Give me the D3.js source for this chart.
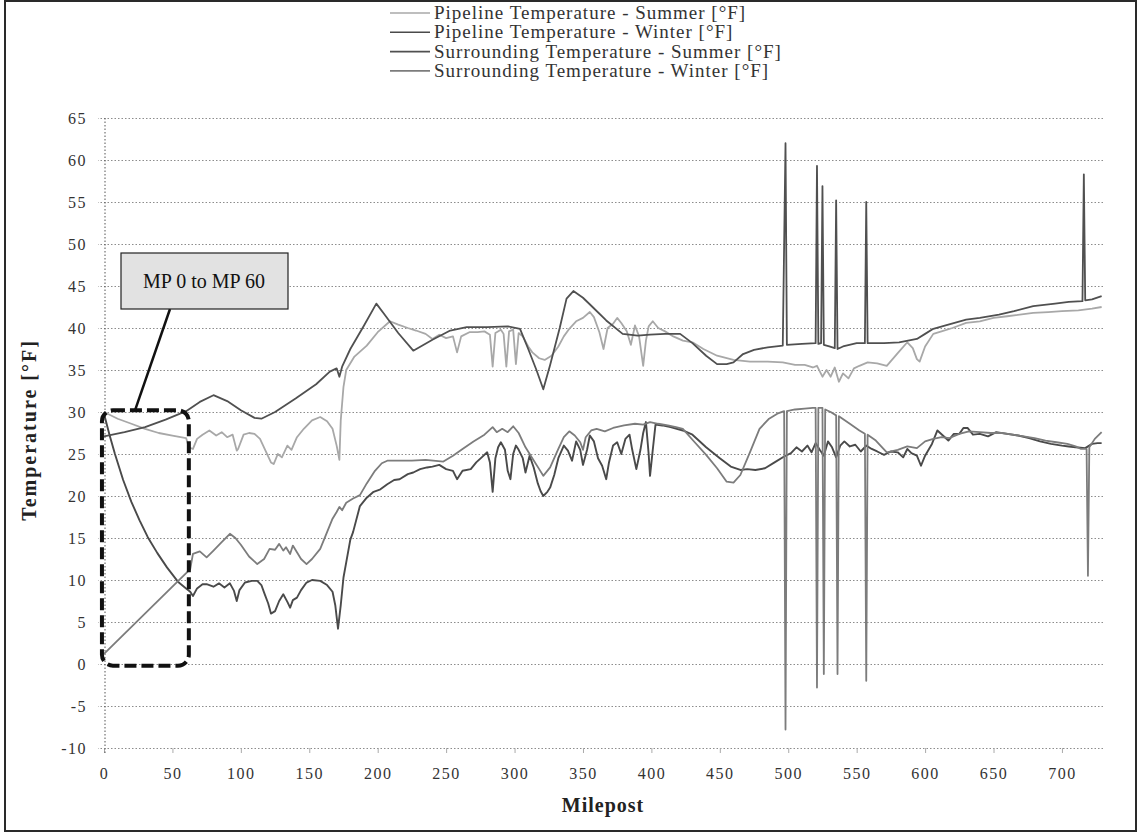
<!DOCTYPE html>
<html>
<head>
<meta charset="utf-8">
<script src="https://cdn.jsdelivr.net/npm/d3@7/dist/d3.min.js"></script>
<style>
  body { margin: 0; background: #fff; }
  svg text { font-family: "Liberation Serif", "Times New Roman", serif; }
</style>
</head>
<body>
<svg id="chart" width="1140" height="834"></svg>
<script>
// [milepost, temperature °F]
let pipelineSummer = [
  [0,30],[10,29.2],[20,28.6],[30,28],[40,27.5],[50,27.2],[60,26.9],[62,25.8],[65,25.6],[68,26.8],
  [72,27.3],[77,27.8],[82,27.2],[86,27.6],[90,27],[94,27.3],[97,25.4],[98,25.6],[102,27.3],[106,27.5],
  [110,27.4],[114,26.8],[118,25.4],[122,24],[124,23.8],[127,25],[130,24.6],[134,26],[137,25.5],[141,27],
  [146,28],[152,29],[158,29.4],[163,28.9],[167,28],[170,26],[172,24.3],[173,29],[175,33],[177,35],
  [183,36.6],[192,37.9],[200,39.5],[209,40.8],[215,40.4],[222,40],[228,39.7],[235,39.3],[240,38.7],[245,39.2],
  [250,38.8],[255,39],[258,37.1],[261,39],[267,39.5],[273,39.5],[278,39.6],[282,39.2],[284,35.4],[286,39.4],
  [290,39.8],[292,39.3],[294,35.4],[296,39.6],[299,39.8],[301,35.7],[303,39.4],[306,39],[310,37.8],[313,37.1],
  [318,36.4],[322,36.2],[327,36.7],[332,37.8],[336,39],[340,39.9],[345,40.8],[350,41.2],[355,41.9],[358,41.3],
  [362,39.5],[365,37.5],[368,40],[372,40.5],[375,41.2],[378,40.6],[382,39.6],[385,38],[388,40.3],[391,39],
  [394,35.5],[396,38.5],[398,40.2],[401,40.8],[405,40],[410,39.6],[416,39],[423,38.5],[430,38.3],[438,37.5],
  [448,36.7],[460,36.2],[472,36],[485,36],[496,35.9],[505,35.6],[512,35.6],[518,35.3],[521,35.5],[525,34.2],
  [528,35],[531,34.2],[534,35.3],[537,33.6],[540,34.6],[544,34],[548,35.2],[552,35.5],[558,35.9],[565,35.8],
  [572,35.5],[580,37],[587,38.3],[591,37.6],[594,36.3],[596,36],[600,37.8],[606,39.3],[612,39.6],[620,40],
  [630,40.6],[640,40.8],[650,41.2],[660,41.4],[679,41.8],[690,41.9],[700,42],[712,42.1],[722,42.3],[729,42.5]
];

let pipelineWinter = [
  [0,29.8],[4,27.3],[8,25],[14,21.9],[20,19.3],[26,17.1],[32,15.1],[39,13.2],[46,11.5],[54,9.8],
  [60,9],[63,8.6],[65,8.1],[68,9],[72,9.5],[75,9.5],
  [80,9.2],[84,9.6],[88,9.1],[92,9.6],[95,8.7],[97,7.5],[99,8.8],[103,9.7],[108,9.9],[112,9.9],
  [115,9.4],[117,8.5],[120,7.2],[122,6],[125,6.3],[128,7.5],[131,8.3],[134,7.4],[136,6.7],[138,7.6],
  [141,7.9],[144,8.8],[148,9.7],[152,10],[158,9.9],[163,9.4],[167,8.6],[169,7],[171,4.2],[173,7],
  [175,10.3],[177,12.1],[180,14.8],[182,15.7],[187,18.8],[192,19.8],[197,20.5],[202,20.8],[207,21.4],[212,21.9],
  [216,22],[222,22.6],[226,22.8],[231,23.2],[236,23.4],[240,23.5],[245,23.7],[250,23.2],[255,23],[258,22],
  [262,23],[268,23.2],[272,24],[276,24.6],[280,25.2],[282,24],[284,20.5],[286,24.5],[288,25.8],[290,26.4],
  [293,25.5],[295,23],[297,22],[299,25],[301,26],[303,25.5],[306,24.5],[308,22.8],[311,24.8],[314,23.4],
  [317,21.5],[319,20.6],[321,20],[324,20.5],[326,21],[329,22.5],[332,24.5],[336,26],[339,25.4],[342,24.2],
  [345,26.5],[348,25.5],[350,23.7],[353,25.5],[355,27.2],[358,26.5],[361,24.5],[364,23.6],[367,22],[369,24],
  [372,26],[375,26.4],[378,25],[381,26.8],[384,27.3],[386,25.5],[389,23.2],[392,25.5],[394,27.5],[396,28.8],
  [398,25],[399,22.4],[401,25.5],[403,28.5],[408,28.4],[414,28.2],[423,27.8],[430,27.3],[440,25.8],[450,24.5],
  [458,23.5],[465,23.1],[470,23.2],[476,23.1],[483,23.3],[490,24],[497,24.7],[502,25.1],[506,25.8],[510,25.3],
  [514,26],[517,25.2],[520,26.3],[523,25.5],[526,24.8],[529,26.5],[532,25.8],[535,24.6],[538,26],[541,26.5],
  [545,25.9],[549,26.1],[553,25.3],[557,26],[561,25.6],[565,25.3],[570,24.9],[575,25.3],[580,25.2],[584,24.6],
  [587,25.6],[590,25.1],[594,24.8],[597,23.6],[600,24.8],[605,26.2],[609,27.8],[613,27.2],[617,26.6],[621,27.4],
  [625,27.4],[628,28.1],[631,28.1],[635,27.3],[640,27.4],[646,27.1],[652,27.6],[660,27.4],[668,27.2],[676,26.9],
  [684,26.5],[692,26.2],[700,26],[705,25.9],[710,25.8],[717,25.7],[722,26.2],[726,26.3],[729,26.3]
];

// spikes are part of the surrounding series
let surroundingSummer = [
  [0,27.1],[15,27.6],[30,28.2],[45,29.1],[60,30.1],[70,31.2],[80,32],[90,31.3],[100,30.2],[110,29.3],
  [115,29.2],[125,30],[140,31.6],[155,33.3],[165,34.8],[170,35.2],[172,34.2],[174,35.4],[180,37.5],[190,40.3],
  [199,42.9],[205,41.6],[215,39.4],[226,37.3],[240,38.6],[253,39.7],[265,40.1],[280,40.1],[295,40.2],[304,39.9],
  [310,37.5],[316,35],[321,32.7],[326,35.6],[333,40],[338,43.5],[343,44.4],[350,43.6],[357,42.5],[367,40.9],
  [379,39.3],[390,39.1],[399,39.2],[410,39.3],[421,39.3],[430,38.2],[440,36.7],[448,35.7],[455,35.7],[460,35.9],
  [467,36.9],[475,37.4],[485,37.7],[496,37.9],[498,62],[499,38],[510,38.1],[520,38.2],[521,59.3],[522,38.1],
  [524,38.2],[525,56.9],[526,38],[530,37.8],[534,37.6],[535,55.2],[536,37.5],[540,37.8],[550,38.2],[556,38.2],
  [557,55],[558,38.2],[570,38.2],[581,38.3],[594,38.7],[600,39.3],[606,39.9],[615,40.3],[630,41],[640,41.2],
  [654,41.6],[665,42],[679,42.6],[695,42.9],[705,43.1],[715,43.2],[716,58.3],[717,43.3],[722,43.4],[729,43.8]
];

let surroundingWinter = [
  [0,1.2],[63,11.3],[65,13.1],[70,13.4],[75,12.7],[80,13.5],[86,14.5],[92,15.5],[96,15],[100,14.2],
  [106,12.8],[112,11.9],[117,12.5],[121,13.7],[125,13.6],[128,14.3],[131,13.5],[133,13.9],[136,13.1],[138,14.1],
  [141,13.3],[144,12.5],[148,11.9],[152,12.5],[158,13.7],[163,15.7],[167,17.3],[170,18.1],[172,18.7],[174,18.3],
  [177,19.2],[182,19.7],[187,20.1],[192,21.5],[198,23],[203,23.9],[207,24.2],[215,24.2],[225,24.2],[235,24.3],
  [248,24.1],[255,24.8],[262,25.6],[270,26.5],[278,27.3],[284,28.2],[287,27.6],[291,28],[295,27.6],[299,28.3],
  [303,27.5],[308,25.8],[313,24.5],[318,23.2],[321,22.4],[326,23.4],[332,25.6],[336,27],[340,27.7],[344,27.2],
  [348,26.4],[350,25.5],[352,27],[356,27.8],[360,28],[366,27.7],[372,28.1],[380,28.4],[388,28.6],[394,28.5],
  [399,28.8],[405,28.6],[412,28.4],[418,28.2],[423,28],[430,26.7],[440,24.9],[448,23.3],[455,21.7],[460,21.6],
  [465,22.5],[472,25.2],[479,28],[486,29.2],[492,29.8],[497,30.1],[498,-7.8],[499,30.1],[505,30.3],[512,30.4],
  [518,30.5],[520,30.5],[521,-2.8],[522,30.5],[525,30.5],[526,-1.2],[527,30.3],[531,30],[535,29.6],[536,-1.2],
  [537,29.5],[545,28.6],[552,27.8],[556,27.4],[557,-2],[558,27.3],[564,26.6],[572,25.2],[580,25.5],[587,25.9],
  [594,25.7],[600,26.5],[606,26.8],[612,27],[618,26.9],[625,27.4],[632,27.7],[640,27.6],[648,27.5],[656,27.5],
  [664,27.3],[672,27.1],[680,26.9],[688,26.6],[696,26.4],[704,26.2],[710,25.9],[714,25.6],[718,25.6],[719,10.5],
  [720,25.8],[724,26.8],[729,27.6]
];

let seriesNames = [
  'Pipeline Temperature - Summer [°F]',
  'Pipeline Temperature - Winter [°F]',
  'Surrounding Temperature - Summer [°F]',
  'Surrounding Temperature - Winter [°F]'
];

let xTicks = d3.range(0, 701, 50);
let yTicks = d3.range(-10, 66, 5);

let FONT = '"Liberation Serif", "Times New Roman", serif';

let SERIES = [
  { name: seriesNames[0], data: pipelineSummer, color: '#a8a8a8', width: 1.8 },
  { name: seriesNames[1], data: pipelineWinter, color: '#4a4a4a', width: 1.9 },
  { name: seriesNames[2], data: surroundingSummer, color: '#505050', width: 1.8 },
  { name: seriesNames[3], data: surroundingWinter, color: '#7c7c7c', width: 1.8 }
];

let svg = d3.select('#chart');
let plotLeft = 104, plotRight = 1103, plotTop = 118, plotBottom = 748;

let x = d3.scaleLinear().domain([0, 730]).range([plotLeft, plotRight]);
let y = d3.scaleLinear().domain([-10, 65]).range([plotBottom, plotTop]);

// outer frame
svg.append('rect')
  .attr('x', 5).attr('y', 1).attr('width', 1131).attr('height', 830)
  .attr('fill', 'none').attr('stroke', '#2a2a2a').attr('stroke-width', 2);

// horizontal grid + y labels
let yAxis = svg.append('g')
  .attr('transform', 'translate(' + plotRight + ',0)')
  .call(d3.axisLeft(y).tickValues(yTicks).tickSize(plotRight - plotLeft + 6).tickFormat(d => String(d)));
yAxis.select('.domain').remove();
yAxis.selectAll('.tick line')
  .attr('stroke', '#8c8c8c').attr('stroke-dasharray', '1.5,2');
yAxis.selectAll('.tick text')
  .attr('x', -(plotRight - plotLeft) - 17)
  .attr('fill', '#333')
  .style('font-family', FONT)
  .style('font-size', '16px')
  .style('letter-spacing', '1.5px');

// x axis (ticks only, below the -10 line)
let xAxis = svg.append('g')
  .attr('transform', 'translate(0,' + plotBottom + ')')
  .call(d3.axisBottom(x).tickValues(xTicks).tickSize(5).tickPadding(15).tickFormat(d => String(d)));
xAxis.select('.domain').remove();
xAxis.selectAll('.tick line').attr('stroke', '#aaa');
xAxis.selectAll('.tick text')
  .attr('fill', '#333')
  .style('font-family', FONT)
  .style('font-size', '16px')
  .style('letter-spacing', '1.5px');

// vertical dotted axis line
svg.append('line')
  .attr('x1', plotLeft + 1).attr('x2', plotLeft + 1)
  .attr('y1', plotTop).attr('y2', plotBottom + 6)
  .attr('stroke', '#555').attr('stroke-dasharray', '1.5,2');

// series lines
let line = d3.line().x(d => x(d[0])).y(d => y(d[1]));
svg.append('g').selectAll('path')
  .data(SERIES)
  .join('path')
  .attr('d', d => line(d.data))
  .attr('fill', 'none')
  .attr('stroke', d => d.color)
  .attr('stroke-width', d => d.width)
  .attr('stroke-linejoin', 'round');

// dashed highlight box around MP 0 - MP 60
svg.append('rect')
  .attr('x', x(-1.5)).attr('y', y(30.2))
  .attr('width', x(62) - x(-1.5)).attr('height', y(-0.2) - y(30.2))
  .attr('rx', 11).attr('ry', 11)
  .attr('fill', 'none').attr('stroke', '#111')
  .attr('stroke-width', 4).attr('stroke-dasharray', '12,5');

// callout
svg.append('line')
  .attr('x1', 170).attr('y1', 309).attr('x2', 135).attr('y2', y(30.2))
  .attr('stroke', '#111').attr('stroke-width', 2.5);
svg.append('rect')
  .attr('x', 121).attr('y', 253).attr('width', 167).attr('height', 56)
  .attr('fill', '#e2e2e2').attr('stroke', '#222').attr('stroke-width', 1.2);
svg.append('text')
  .attr('x', 204).attr('y', 288)
  .attr('text-anchor', 'middle')
  .attr('fill', '#111')
  .style('font-size', '20px')
  .text('MP 0 to MP 60');

// axis titles
svg.append('text')
  .attr('transform', 'translate(36,430) rotate(-90)')
  .attr('text-anchor', 'middle')
  .attr('fill', '#222')
  .style('font-size', '20px').style('font-weight', 'bold')
  .style('letter-spacing', '2px')
  .text('Temperature [°F]');
svg.append('text')
  .attr('x', 603).attr('y', 812)
  .attr('text-anchor', 'middle')
  .attr('fill', '#222')
  .style('font-size', '20px').style('font-weight', 'bold')
  .style('letter-spacing', '1px')
  .text('Milepost');

// legend
let legend = svg.append('g').selectAll('g')
  .data(SERIES)
  .join('g')
  .attr('transform', (d, i) => 'translate(390,' + (13 + i * 19.3) + ')');
legend.append('line')
  .attr('x1', 0).attr('x2', 40)
  .attr('stroke', d => d.color).attr('stroke-width', 1.6);
legend.append('text')
  .attr('x', 44).attr('y', 6)
  .attr('fill', '#333')
  .style('font-size', '19px')
  .style('letter-spacing', '1px')
  .text(d => d.name);
</script>
</body>
</html>
